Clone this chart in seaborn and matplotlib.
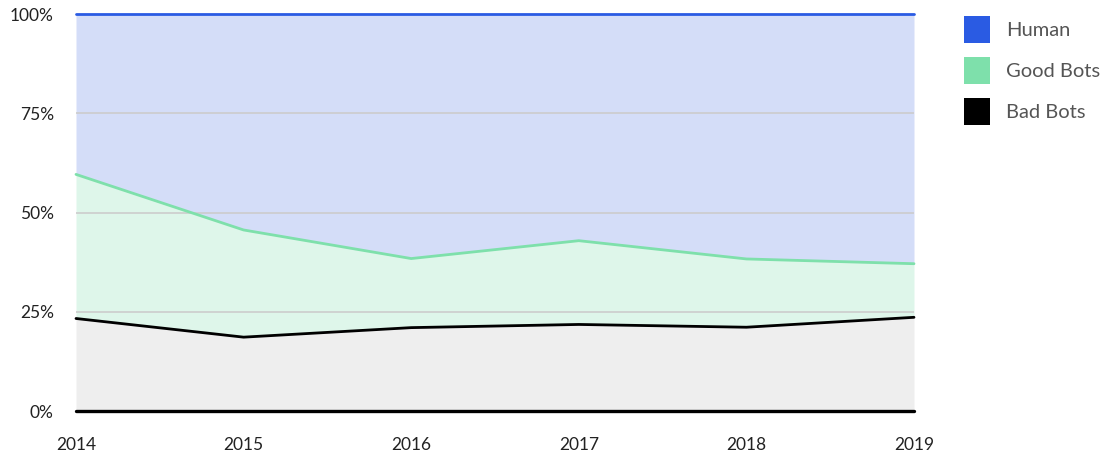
import seaborn as sns
import pandas as pd
import matplotlib.pyplot as plt
from matplotlib.patches import Patch

# Share of website traffic by year (%)
years = [2014, 2015, 2016, 2017, 2018, 2019]
bad_bots = [23.3, 18.6, 21.0, 21.8, 21.1, 23.6]
good_bots = [36.3, 27.0, 17.4, 21.1, 17.2, 13.5]
human = [40.4, 54.4, 61.6, 57.1, 61.7, 62.9]

series = ["Human", "Good Bots", "Bad Bots"]
line_colors = {"Human": "#2a5be3", "Good Bots": "#7ee0ab", "Bad Bots": "#000000"}
fill_colors = {"Human": "#d4ddf8", "Good Bots": "#def6ea", "Bad Bots": "#eeeeee"}

# cumulative tops for the stack (bottom to top)
df = pd.DataFrame({"year": years, "Bad Bots": bad_bots, "Good Bots": good_bots, "Human": human})
df["top_bad"] = df["Bad Bots"]
df["top_good"] = df["top_bad"] + df["Good Bots"]
df["top_human"] = df["top_good"] + df["Human"]
df["base"] = 0.0

sns.set_style("white")
plt.rcParams["font.family"] = ["Lato", "DejaVu Sans"]

fig = plt.figure(figsize=(11.07, 4.58), dpi=100)
ax = fig.add_axes([76 / 1107, 47 / 458, 838 / 1107, 397 / 458])

ax.fill_between(df["year"], df["base"], df["top_bad"], color=fill_colors["Bad Bots"], lw=0, zorder=1)
ax.fill_between(df["year"], df["top_bad"], df["top_good"], color=fill_colors["Good Bots"], lw=0, zorder=1)
ax.fill_between(df["year"], df["top_good"], df["top_human"], color=fill_colors["Human"], lw=0, zorder=1)

sns.lineplot(data=df, x="year", y="base", color="black", lw=2.4, ax=ax, zorder=4)
sns.lineplot(data=df, x="year", y="top_bad", color=line_colors["Bad Bots"], lw=2, ax=ax, zorder=4)
sns.lineplot(data=df, x="year", y="top_good", color=line_colors["Good Bots"], lw=2, ax=ax, zorder=4)
sns.lineplot(data=df, x="year", y="top_human", color=line_colors["Human"], lw=2, ax=ax, zorder=4)
for ln in ax.lines:
    ln.set_clip_on(False)

ax.set_xlim(2014, 2019)
ax.set_ylim(0, 100)
ax.set_xticks(years)
ax.set_xticklabels([str(y) for y in years])
ax.set_yticks([0, 25, 50, 75, 100])
ax.set_yticklabels(["0%", "25%", "50%", "75%", "100%"])
ax.set_axisbelow(False)
ax.grid(axis="y", color="#cccccc", lw=1.2, zorder=2)
ax.grid(axis="x", visible=False)
ax.tick_params(length=0, labelsize=12.5, labelcolor="#222222")
ax.tick_params(axis="x", pad=19)
ax.tick_params(axis="y", pad=16)
ax.set_xlabel("")
ax.set_ylabel("")
sns.despine(ax=ax, left=True, bottom=True)

handles = [Patch(facecolor=line_colors[s], edgecolor="none", label=s) for s in series]
fig.legend(handles=handles, loc="upper left", bbox_to_anchor=(964 / 1107, 1 - 16 / 458),
           frameon=False, fontsize=14.5, labelcolor="#555555", borderpad=0, borderaxespad=0,
           handlelength=1.3, handleheight=1.65, handletextpad=0.8, labelspacing=0.72)

fig.savefig("out.png", dpi=100)
